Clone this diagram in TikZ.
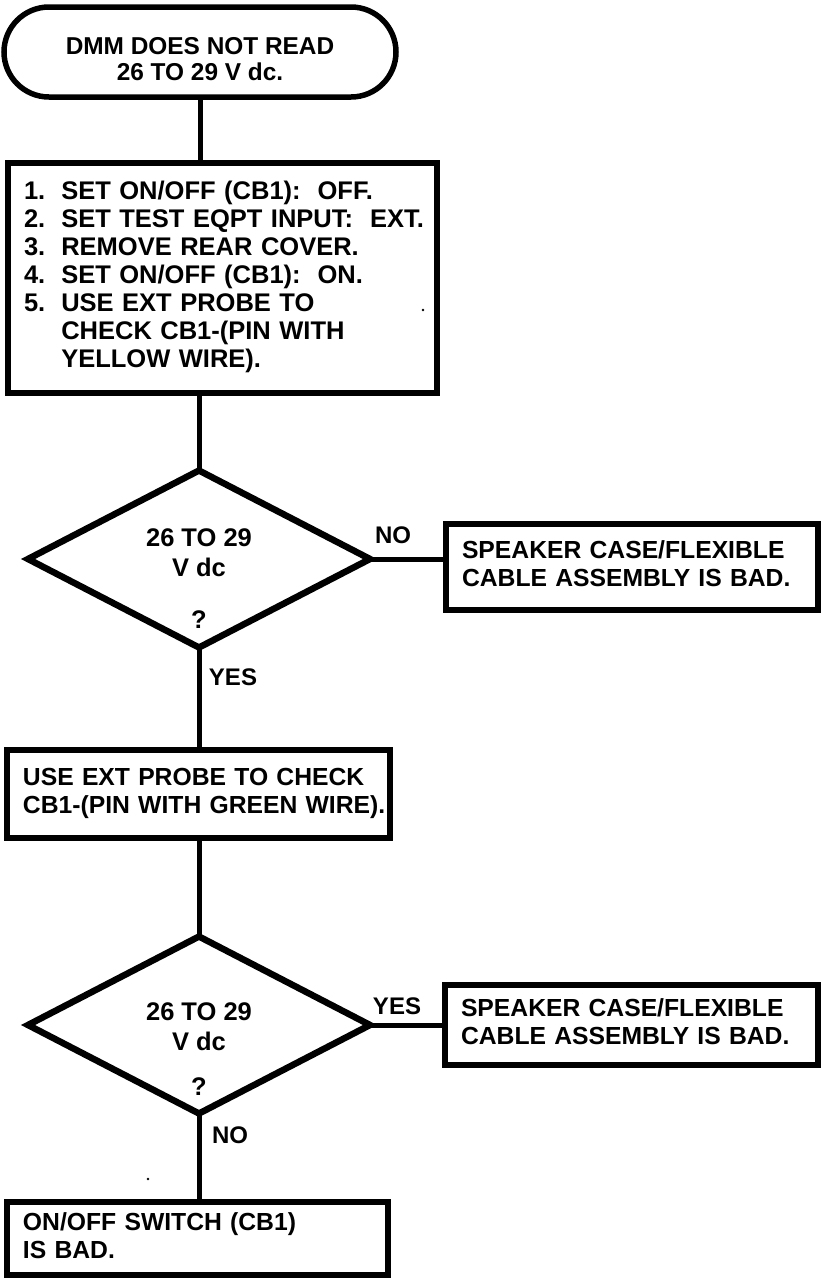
\documentclass[tikz,border=0pt]{standalone}
\usepackage{fontspec}
\setmainfont{Liberation Sans}
\usetikzlibrary{shapes.geometric}
\begin{document}
\begin{tikzpicture}[x=1pt,y=-1pt,
  txt/.style={font=\fontsize{24.7}{28}\selectfont\bfseries},
  box/.style={draw, line width=5.5pt, rectangle, anchor=north west, outer sep=0pt,
    inner xsep=16pt, inner ysep=0pt, align=left, txt},
  term/.style={draw, line width=5.5pt, rectangle, rounded corners=45pt, outer sep=0pt,
    inner sep=0pt},
  ttxt/.style={inner sep=0pt, align=center, font=\fontsize{24.4}{26}\selectfont\bfseries},
  dia/.style={draw, diamond, line width=6.5pt, outer sep=0pt, inner sep=0pt},
  dtxt/.style={inner sep=0pt, align=center, font=\fontsize{25.5}{30}\selectfont\bfseries},
  lbl/.style={inner sep=0pt, font=\fontsize{24}{28}\selectfont\bfseries},
  conn/.style={line width=5pt}]
\useasboundingbox (0,0) rectangle (820,1278);

% start terminal
\node[term, minimum width=392, minimum height=90] (t) at (200,52) {};
\node[ttxt] (tt) at (200,59) {DMM DOES NOT READ\\26 TO 29 V dc.};

% step box 1
\node[box, minimum width=429, minimum height=230, text width=397,
      font=\fontsize{25.5}{28}\selectfont\bfseries] (s1) at (8,163)
  {\begin{tabular}{@{}l@{\hspace{16pt}}l@{}}
   1. & SET ON/OFF (CB1):\ \ OFF.\\
   2. & SET TEST EQPT INPUT:\ \ EXT.\\
   3. & REMOVE REAR COVER.\\
   4. & SET ON/OFF (CB1):\ \ ON.\\
   5. & USE EXT PROBE TO\\
      & CHECK CB1-(PIN WITH\\
      & YELLOW WIRE).
   \end{tabular}};

% decision 1
\node[dia, minimum width=342, minimum height=177] (d1) at (199,559) {};
\node[dtxt] (d1t) at (199,553) {26 TO 29\\V dc};
\node[dtxt] (d1q) at (199,620) {?};

% result right 1
\node[box, minimum width=372, minimum height=86, text width=340] (r1) at (446,524)
  {\begin{tabular}{@{}l@{}}SPEAKER CASE/FLEXIBLE\\CABLE ASSEMBLY IS BAD.\end{tabular}};

% step box 2
\node[box, minimum width=383, minimum height=88, text width=351] (s2) at (7,750)
  {\begin{tabular}{@{}l@{}}USE EXT PROBE TO CHECK\\CB1-(PIN WITH GREEN WIRE).\end{tabular}};

% decision 2
\node[dia, minimum width=342, minimum height=177] (d2) at (199,1025) {};
\node[dtxt] (d2t) at (199,1027) {26 TO 29\\V dc};
\node[dtxt] (d2q) at (199,1087) {?};

% result right 2
\node[box, minimum width=373, minimum height=80, text width=341] (r2) at (445,985)
  {\begin{tabular}{@{}l@{}}SPEAKER CASE/FLEXIBLE\\CABLE ASSEMBLY IS BAD.\end{tabular}};

% final box
\node[box, minimum width=381, minimum height=73, text width=349] (f) at (7,1202)
  {\begin{tabular}{@{}l@{}}ON/OFF SWITCH (CB1)\\IS BAD.\end{tabular}};

% connectors
\draw[conn] (t.south) -- (t.south |- s1.north);
\draw[conn] (d1.north) -- (d1.north |- s1.south);
\draw[conn] (d1.south) -- (d1.south |- s2.north);
\draw[conn] (d2.north) -- (d2.north |- s2.south);
\draw[conn] (d2.south) -- (d2.south |- f.north);
\draw[conn] (d1.east) -- (d1.east -| r1.west);
\draw[conn] (d2.east) -- (d2.east -| r2.west);

% branch labels
\node[lbl] (n1) at (393,535) {NO};
\node[lbl] (y1) at (233,677) {YES};
\node[lbl] (y2) at (397,1006) {YES};
\node[lbl] (n2) at (230,1135) {NO};

% specks
\fill (423,310) circle (1.3);
\fill (148,1179) circle (1.3);
\end{tikzpicture}
\end{document}
